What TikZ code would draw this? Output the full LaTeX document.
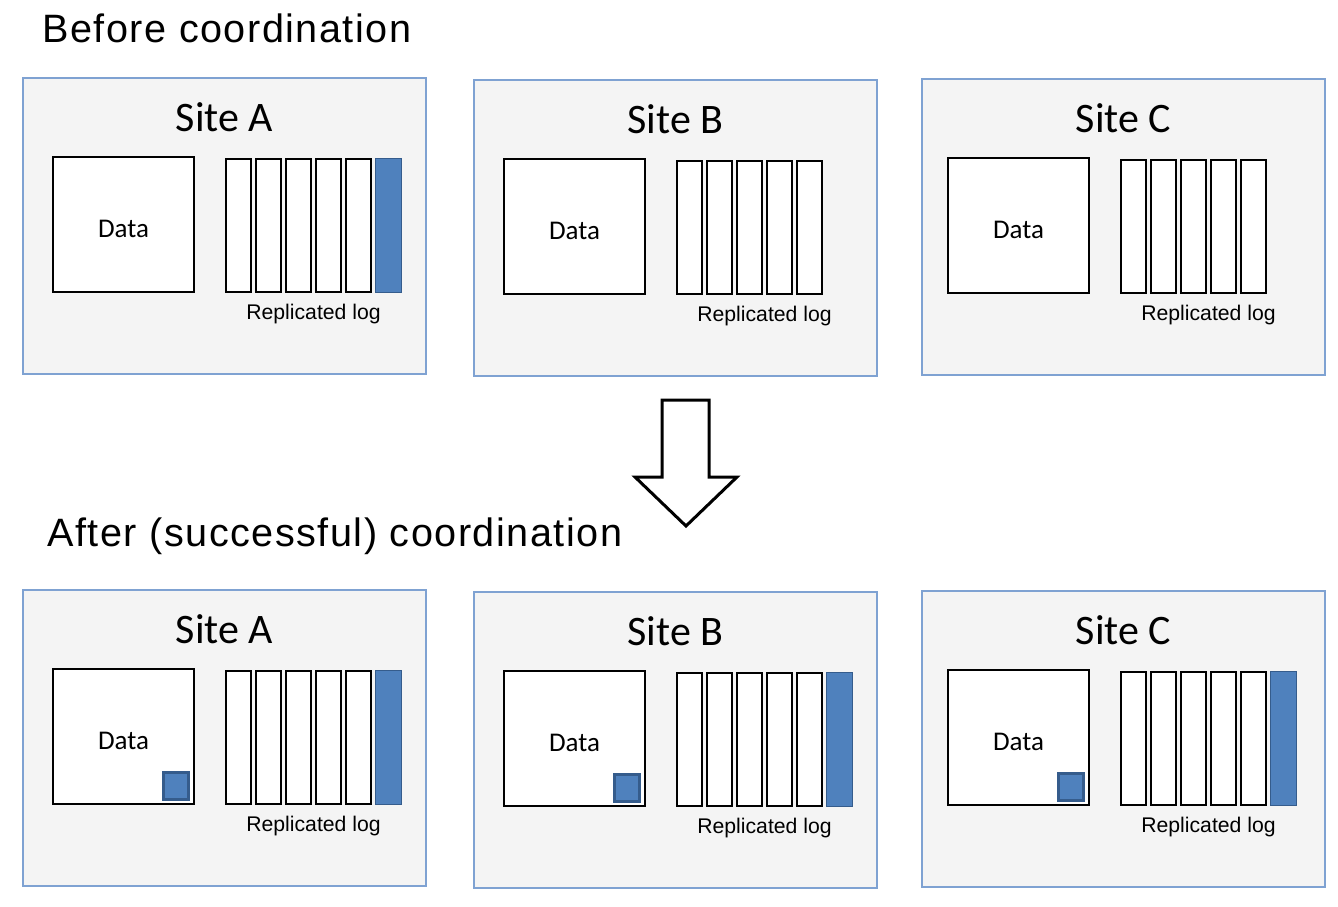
\documentclass[tikz,border=0pt]{standalone}
\usepackage{fontspec}
\setmainfont{Liberation Sans}
\newfontfamily\calibri{Carlito}
\newfontfamily\headfont[LetterSpace=3.8]{Liberation Sans}
\definecolor{sitefill}{HTML}{F4F4F4}
\definecolor{siteline}{HTML}{7FA2D2}
\definecolor{entryblue}{HTML}{4F81BD}
\definecolor{entryline}{HTML}{355C8C}

\begin{document}
\begin{tikzpicture}[x=0.5pt,y=-0.5pt,
    heading/.style={inner sep=0pt,font=\headfont\fontsize{19.8}{23}\selectfont},
    sitebox/.style={draw=siteline,fill=sitefill,line width=0.8pt,minimum width=201.5pt,minimum height=148pt,inner sep=0pt},
    sitetitle/.style={inner sep=0pt,font=\calibri\fontsize{21}{25}\selectfont},
    databox/.style={draw,fill=white,line width=0.8pt,minimum width=70.5pt,minimum height=67.5pt,inner sep=0pt,text height=12.5pt,text depth=0pt,font=\calibri\fontsize{13.5}{16}\selectfont},
    logcell/.style={draw,fill=white,line width=1.2pt,minimum width=12.5pt,minimum height=66.5pt,inner sep=0pt},
    newentry/.style={draw=entryline,fill=entryblue,line width=0.6pt,minimum width=13pt,minimum height=67pt,inner sep=0pt},
    newrecord/.style={draw=entryline,fill=entryblue,line width=1.5pt,minimum width=12.5pt,minimum height=13.5pt,inner sep=0pt},
    loglabel/.style={inner sep=0pt,font=\fontsize{10.6}{13}\selectfont}]
    \useasboundingbox (0,0) rectangle (1338,906);
    \node[heading,anchor=base west] (before) at (42,42) {Before coordination};
    \node[heading,anchor=base west] (after) at (47,546) {After (successful) coordination};
    % before
    \foreach \s/\bx/\by/\dx in {A/23/78/0,B/474/80/0,C/922/79/-4}{
        \node[sitebox] (site\s1) at (\bx+201.5,\by+148) {};
        \node[sitetitle,anchor=base] (title\s1) at (\bx+201.5,\by+53) {Site \s};
        \node[databox] (data\s1) at (\bx+\dx+100.5,\by+146.5) {Data};
        \foreach \i in {1,...,5}
            \node[logcell] (log\s1-\i) at (\bx+\dx+185.5+30*\i,\by+147.5) {};
        \node[loglabel,anchor=base] (label\s1) at (\bx+\dx+290.5,\by+241) {Replicated log};
    }
    \node[newentry] (logA1-6) at (23+365.5,78+147.5) {};
    % arrow
    \draw[line width=1.5pt,fill=white,line join=miter](662,400)--(709,400)--(709,477)--(737,477)--(686,526)--(635,477)--(662,477)--cycle;
    % after
    \foreach \s/\bx/\by/\dx in {A/23/590/0,B/474/592/0,C/922/591/-4}{
        \node[sitebox] (site\s2) at (\bx+201.5,\by+148) {};
        \node[sitetitle,anchor=base] (title\s2) at (\bx+201.5,\by+53) {Site \s};
        \node[databox] (data\s2) at (\bx+\dx+100.5,\by+146.5) {Data};
        \node[newrecord,anchor=south east,xshift=-2.4pt,yshift=2pt] (rec\s2) at (data\s2.south east) {};
        \foreach \i in {1,...,5}
            \node[logcell] (log\s2-\i) at (\bx+\dx+185.5+30*\i,\by+147.5) {};
        \node[newentry] (log\s2-6) at (\bx+\dx+365.5,\by+147.5) {};
        \node[loglabel,anchor=base] (label\s2) at (\bx+\dx+290.5,\by+241) {Replicated log};
    }
\end{tikzpicture}
\end{document}
